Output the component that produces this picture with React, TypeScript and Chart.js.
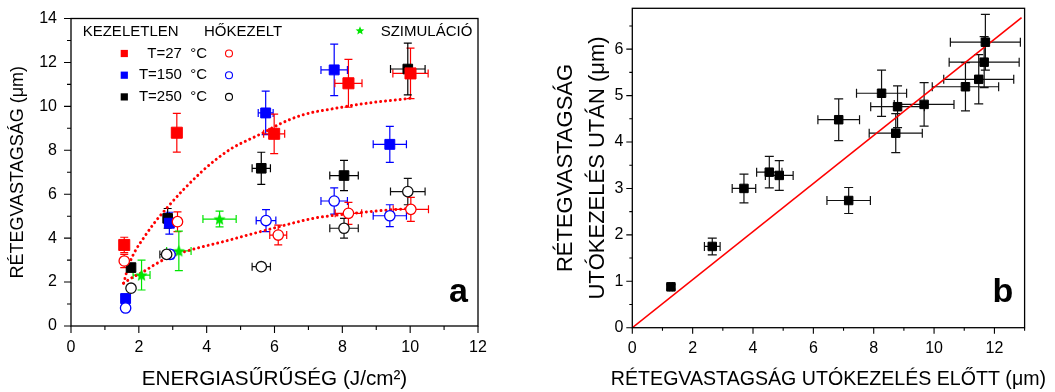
import React, { useEffect, useRef } from 'react';
import { Chart, registerables } from 'chart.js';

Chart.register(...registerables);

const FONT = '"Liberation Sans", Arial, Helvetica, sans-serif';

// ---------- Panel a: layer thickness vs. energy density ----------
// KEZELETLEN (untreated) series
const untreated27X = [1.57, 3.12, 5.99, 8.18, 10.01];
const untreated27Y = [3.69, 8.8, 8.75, 11.05, 11.5];
const untreated27XErr = [0.05, 0.05, 0.31, 0.4, 0.52];
const untreated27YErr = [0.35, 0.88, 0.9, 1.09, 1.15];

const untreated150X = [1.61, 2.9, 5.74, 7.76, 9.4];
const untreated150Y = [1.25, 4.68, 9.7, 11.66, 8.27];
const untreated150XErr = [0.05, 0.1, 0.22, 0.39, 0.49];
const untreated150YErr = [0.1, 0.5, 0.99, 1.17, 0.82];

const untreated250X = [1.77, 2.85, 5.61, 8.05, 9.93];
const untreated250Y = [2.66, 4.9, 7.18, 6.85, 11.7];
const untreated250XErr = [0.05, 0.1, 0.27, 0.42, 0.51];
const untreated250YErr = [0.15, 0.45, 0.73, 0.69, 1.18];

// HŐKEZELT (heat treated) series
const treated27X = [1.57, 3.14, 6.11, 8.18, 10.02];
const treated27Y = [2.96, 4.75, 4.14, 5.13, 5.31];
const treated27XErr = [0.05, 0.1, 0.25, 0.39, 0.52];
const treated27YErr = [0.3, 0.45, 0.45, 0.5, 0.55];

const treated150X = [1.61, 2.92, 5.75, 7.76, 9.4];
const treated150Y = [0.82, 3.26, 4.8, 5.69, 5.02];
const treated150XErr = [0.05, 0.12, 0.29, 0.39, 0.49];
const treated150YErr = [0.1, 0.2, 0.5, 0.6, 0.5];

const treated250X = [1.77, 2.82, 5.61, 8.05, 9.93];
const treated250Y = [1.72, 3.26, 2.7, 4.45, 6.12];
const treated250XErr = [0.05, 0.2, 0.27, 0.42, 0.51];
const treated250YErr = [0.1, 0.15, 0.15, 0.45, 0.6];

// SZIMULÁCIÓ
const simX = [2.08, 3.18, 4.38];
const simY = [2.32, 3.42, 4.87];
const simXErr = [0.25, 0.36, 0.49];
const simYErr = [0.68, 0.9, 0.36];

// dotted fit curves
const fitUpperX = [1.55, 1.7, 1.87, 2.16, 2.46, 2.87, 3.31, 3.87, 4.25, 4.74, 5.33, 5.67, 6.16, 6.85, 7.83, 8.81, 9.99, 10.1];
const fitUpperY = [1.95, 2.75, 3.35, 4.05, 4.7, 5.45, 6.2, 7.05, 7.55, 8.09, 8.55, 8.8, 9.2, 9.62, 9.92, 10.16, 10.37, 10.4];
const fitLowerX = [1.55, 1.8, 2.13, 2.53, 2.92, 3.71, 4.49, 5.28, 6.06, 7.14, 8.13, 9.11, 10.09];
const fitLowerY = [1.95, 2.2, 2.47, 2.85, 3.16, 3.54, 3.84, 4.17, 4.49, 4.9, 5.1, 5.25, 5.36];

const aXTicks = [0, 2, 4, 6, 8, 10, 12];
const aYTicks = [0, 2, 4, 6, 8, 10, 12, 14];

// ---------- Panel b: after vs. before post-treatment ----------
const beforeX = [1.28, 2.65, 3.7, 4.54, 4.87, 6.84, 7.17, 8.26, 8.73, 8.79, 9.67, 11.04, 11.48, 11.66, 11.7];
const afterY = [0.88, 1.75, 3.0, 3.35, 3.28, 4.48, 2.74, 5.05, 4.19, 4.76, 4.81, 5.19, 5.35, 5.72, 6.15];
const beforeXErr = [0.05, 0.26, 0.39, 0.42, 0.46, 0.69, 0.72, 0.83, 0.88, 0.89, 0.99, 1.1, 1.16, 1.16, 1.16];
const afterYErr = [0.05, 0.18, 0.31, 0.34, 0.32, 0.45, 0.28, 0.5, 0.42, 0.45, 0.47, 0.52, 0.53, 0.55, 0.6];
const refLineX = [0, 12.9];
const refLineY = [0, 6.68];

const bXTicks = [0, 2, 4, 6, 8, 10, 12];
const bYTicks = [0, 1, 2, 3, 4, 5, 6];

const RED = '#ff0000';
const BLUE = '#0000ff';
const BLACK = '#000000';
const GREEN = '#00e600';

function starPath(ctx: CanvasRenderingContext2D, cx: number, cy: number, outer: number) {
  const inner = outer * 0.45;
  ctx.beginPath();
  for (let i = 0; i < 10; i++) {
    const r = i % 2 === 0 ? outer : inner;
    const a = -Math.PI / 2 + (i * Math.PI) / 5;
    const px = cx + r * Math.cos(a);
    const py = cy + r * Math.sin(a);
    if (i === 0) ctx.moveTo(px, py);
    else ctx.lineTo(px, py);
  }
  ctx.closePath();
}

function makeStar(outer: number, color: string) {
  const c = document.createElement('canvas');
  const s = Math.ceil(outer * 2 + 2);
  c.width = s;
  c.height = s;
  const ctx = c.getContext('2d')!;
  starPath(ctx, s / 2, s / 2 + 0.6, outer);
  ctx.fillStyle = color;
  ctx.fill();
  return c;
}

const pts = (xs: number[], ys: number[]) => xs.map((x, i) => ({ x, y: ys[i] }));

function axis(o: {
  min: number; max: number; ticks: number[]; size: number; isY: boolean;
  pad: number; title: any;
}) {
  return {
    type: 'linear',
    min: o.min,
    max: o.max,
    afterBuildTicks: (s: any) => {
      s.ticks = o.ticks.map((v) => ({ value: v }));
    },
    afterFit: (s: any) => {
      if (o.isY) s.width = o.size;
      else s.height = o.size;
      s.paddingTop = 0;
      s.paddingBottom = 0;
      s.paddingLeft = 0;
      s.paddingRight = 0;
    },
    grid: { display: false, drawTicks: false },
    border: { display: false },
    ticks: {
      color: '#000',
      font: { family: FONT, size: 16 },
      padding: o.pad,
      autoSkip: false,
      maxRotation: 0,
      callback: (v: any) => String(v),
    },
    title: o.title,
  };
}

function decorPlugin(cfg: {
  major: number; minor: number; cap: number; label: string; labelDx: number; labelDy: number; legend: boolean;
  xTitle?: { text: string; size: number; y: number };
}) {
  return {
    id: 'decor',
    beforeDatasetsDraw(chart: any) {
      const ctx = chart.ctx as CanvasRenderingContext2D;
      const xs = chart.scales.x;
      const ys = chart.scales.y;
      ctx.save();
      chart.data.datasets.forEach((ds: any) => {
        if (!ds.errX) return;
        ctx.strokeStyle = ds.errColor;
        ctx.lineWidth = 1.2;
        ds.data.forEach((p: any, i: number) => {
          const cx = xs.getPixelForValue(p.x);
          const cy = ys.getPixelForValue(p.y);
          const x0 = xs.getPixelForValue(p.x - ds.errX[i]);
          const x1 = xs.getPixelForValue(p.x + ds.errX[i]);
          const y0 = ys.getPixelForValue(p.y - ds.errY[i]);
          const y1 = ys.getPixelForValue(p.y + ds.errY[i]);
          ctx.beginPath();
          ctx.moveTo(x0, cy); ctx.lineTo(x1, cy);
          ctx.moveTo(x0, cy - cfg.cap); ctx.lineTo(x0, cy + cfg.cap);
          ctx.moveTo(x1, cy - cfg.cap); ctx.lineTo(x1, cy + cfg.cap);
          ctx.moveTo(cx, y0); ctx.lineTo(cx, y1);
          ctx.moveTo(cx - cfg.cap, y0); ctx.lineTo(cx + cfg.cap, y0);
          ctx.moveTo(cx - cfg.cap, y1); ctx.lineTo(cx + cfg.cap, y1);
          ctx.stroke();
        });
      });
      ctx.restore();
    },
    afterDatasetsDraw(chart: any) {
      const ctx = chart.ctx as CanvasRenderingContext2D;
      const a = chart.chartArea;
      const xs = chart.scales.x;
      const ys = chart.scales.y;
      ctx.save();
      ctx.strokeStyle = '#000';
      ctx.lineWidth = 1.3;
      ctx.strokeRect(a.left, a.top, a.right - a.left, a.bottom - a.top);
      ctx.lineWidth = 1.1;
      const tickVals = (t: number[], max: number) => {
        const out: { v: number; major: boolean }[] = [];
        t.forEach((v, i) => {
          out.push({ v, major: true });
          const step = i < t.length - 1 ? t[i + 1] - v : v - t[i - 1];
          const mid = v + step / 2;
          if (mid <= max + 1e-9) out.push({ v: mid, major: false });
        });
        return out;
      };
      ctx.beginPath();
      tickVals(xs.ticks.map((t: any) => t.value), xs.max).forEach(({ v, major }) => {
        const px = xs.getPixelForValue(v);
        ctx.moveTo(px, a.bottom);
        ctx.lineTo(px, a.bottom + (major ? cfg.major : cfg.minor));
      });
      tickVals(ys.ticks.map((t: any) => t.value), ys.max).forEach(({ v, major }) => {
        const py = ys.getPixelForValue(v);
        ctx.moveTo(a.left, py);
        ctx.lineTo(a.left - (major ? cfg.major : cfg.minor), py);
      });
      ctx.stroke();

      // panel letter
      ctx.fillStyle = '#000';
      ctx.font = `bold 34px ${FONT}`;
      ctx.textAlign = 'left';
      ctx.textBaseline = 'alphabetic';
      ctx.fillText(cfg.label, a.right + cfg.labelDx, a.bottom + cfg.labelDy);

      // x-axis title drawn without width compression (it is wider than the plot)
      if (cfg.xTitle) {
        ctx.font = `${cfg.xTitle.size}px ${FONT}`;
        ctx.textAlign = 'center';
        ctx.textBaseline = 'middle';
        ctx.fillText(cfg.xTitle.text, (a.left + a.right) / 2, cfg.xTitle.y);
        ctx.textAlign = 'left';
      }

      if (cfg.legend) {
        ctx.font = `15px ${FONT}`;
        ctx.textBaseline = 'middle';
        ctx.fillText('KEZELETLEN', a.left + 11.7, a.top + 13.5);
        ctx.fillText('HŐKEZELT', a.left + 133, a.top + 13.5);
        ctx.fillText('SZIMULÁCIÓ', a.left + 309.7, a.top + 13.5);
        starPath(ctx, a.left + 289, a.top + 12.3, 4.6);
        ctx.fillStyle = GREEN;
        ctx.fill();
        const rows = [
          { t: 'T=27  °C', c: RED },
          { t: 'T=150  °C', c: BLUE },
          { t: 'T=250  °C', c: BLACK },
        ];
        rows.forEach((r, i) => {
          const y = a.top + 35 + i * 21.7;
          ctx.fillStyle = r.c;
          ctx.fillRect(a.left + 53.3 - 3.6, y - 3.6, 7.2, 7.2);
          ctx.fillStyle = '#000';
          ctx.textAlign = 'right';
          ctx.fillText(r.t, a.left + 136, y);
          ctx.textAlign = 'left';
          ctx.beginPath();
          ctx.arc(a.left + 158, y, 3.5, 0, Math.PI * 2);
          ctx.strokeStyle = r.c;
          ctx.lineWidth = 1.1;
          ctx.stroke();
        });
      }
      ctx.restore();
    },
  };
}

function ChartA() {
  const ref = useRef<HTMLCanvasElement>(null);
  useEffect(() => {
    const star = makeStar(6.5, GREEN);
    const filled = (xs: number[], ys: number[], ex: number[], ey: number[], color: string, r: number) => ({
      data: pts(xs, ys), errX: ex, errY: ey, errColor: color,
      pointStyle: 'rect', pointRadius: r, backgroundColor: color, borderColor: color, borderWidth: 1,
    });
    const hollow = (xs: number[], ys: number[], ex: number[], ey: number[], color: string) => ({
      data: pts(xs, ys), errX: ex, errY: ey, errColor: color,
      pointStyle: 'circle', pointRadius: 5.2, backgroundColor: '#fff', borderColor: color, borderWidth: 1.3,
    });
    const curve = (xs: number[], ys: number[]) => ({
      data: pts(xs, ys), showLine: true, pointRadius: 0, borderColor: RED, borderWidth: 3,
      borderDash: [0.01, 4.9], borderCapStyle: 'round', cubicInterpolationMode: 'monotone', fill: false,
    });
    const chart = new Chart(ref.current!, {
      type: 'scatter',
      data: {
        datasets: [
          hollow(treated250X, treated250Y, treated250XErr, treated250YErr, '#111'),
          hollow(treated150X, treated150Y, treated150XErr, treated150YErr, BLUE),
          hollow(treated27X, treated27Y, treated27XErr, treated27YErr, RED),
          filled(untreated150X, untreated150Y, untreated150XErr, untreated150YErr, BLUE, 7.0),
          filled(untreated27X, untreated27Y, untreated27XErr, untreated27YErr, RED, 7.8),
          filled(untreated250X, untreated250Y, untreated250XErr, untreated250YErr, BLACK, 6.8),
          {
            data: pts(simX, simY), errX: simXErr, errY: simYErr, errColor: GREEN,
            pointStyle: star, pointRadius: 6.5,
          },
          curve(fitUpperX, fitUpperY),
          curve(fitLowerX, fitLowerY),
        ] as any,
      },
      options: {
        animation: false,
        responsive: false,
        devicePixelRatio: 1,
        layout: { padding: { left: 0, top: 18.5, right: 52, bottom: 0 } },
        plugins: { legend: { display: false }, tooltip: { enabled: false } },
        events: [],
        scales: {
          x: axis({
            min: 0, max: 12, ticks: aXTicks, size: 66, isY: false, pad: 12,
            title: {
              display: true, text: 'ENERGIASŰRŰSÉG (J/cm²)', color: '#000',
              font: { family: FONT, size: 20.7, lineHeight: 1.2 }, padding: { top: 0, bottom: 0 },
            },
          }),
          y: axis({
            min: 0, max: 14, ticks: aYTicks, size: 71, isY: true, pad: 14,
            title: {
              display: true, text: 'RÉTEGVASTAGSÁG (μm)', color: '#000',
              font: { family: FONT, size: 18, lineHeight: 1.2 }, padding: { top: 7, bottom: 0 },
            },
          }),
        } as any,
      },
      plugins: [decorPlugin({ major: 7, minor: 4, cap: 4, label: 'a', labelDx: -29, labelDy: -24, legend: true })],
    });
    return () => chart.destroy();
  }, []);
  return <canvas ref={ref} width={530} height={392} style={{ position: 'absolute', left: 0, top: 0 }} />;
}

function ChartB() {
  const ref = useRef<HTMLCanvasElement>(null);
  useEffect(() => {
    const chart = new Chart(ref.current!, {
      type: 'scatter',
      data: {
        datasets: [
          {
            data: pts(beforeX, afterY), errX: beforeXErr, errY: afterYErr, errColor: '#111',
            pointStyle: 'rect', pointRadius: 6, backgroundColor: BLACK, borderColor: BLACK, borderWidth: 1,
          },
          {
            data: pts(refLineX, refLineY), showLine: true, pointRadius: 0, borderColor: RED, borderWidth: 1.6,
          },
        ] as any,
      },
      options: {
        animation: false,
        responsive: false,
        devicePixelRatio: 1,
        layout: { padding: { left: 0, top: 8.3, right: 30.4, bottom: 0 } },
        plugins: { legend: { display: false }, tooltip: { enabled: false } },
        events: [],
        scales: {
          x: axis({
            min: 0, max: 13, ticks: bXTicks, size: 64.3, isY: false, pad: 11,
            title: { display: false },
          }),
          y: axis({
            min: 0, max: 6.88, ticks: bYTicks, size: 102.3, isY: true, pad: 9,
            title: {
              display: true, text: ['RÉTEGVASTAGSÁG', 'UTÓKEZELÉS UTÁN (μm)'], color: '#000',
              font: { family: FONT, size: 22, lineHeight: 1.45 }, padding: { top: 20, bottom: 0 },
            },
          }),
        } as any,
      },
      plugins: [decorPlugin({
        major: 6, minor: 3, cap: 4.5, label: 'b', labelDx: -32, labelDy: -26, legend: false,
        xTitle: { text: 'RÉTEGVASTAGSÁG UTÓKEZELÉS ELŐTT (μm)', size: 19.6, y: 379.5 },
      })],
    });
    return () => chart.destroy();
  }, []);
  return <canvas ref={ref} width={525} height={392} style={{ position: 'absolute', left: 530, top: 0 }} />;
}

export default function App() {
  return (
    <div style={{ position: 'absolute', left: 0, top: 0, width: 1055, height: 392, background: '#fff' }}>
      <ChartA />
      <ChartB />
    </div>
  );
}
